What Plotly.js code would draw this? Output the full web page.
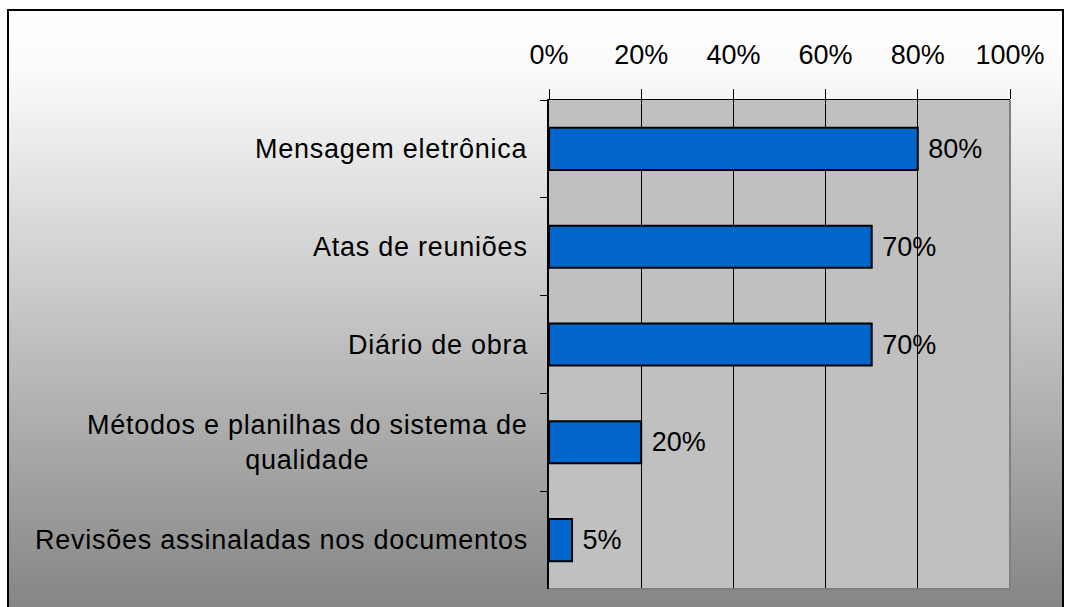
<!DOCTYPE html>
<html>
<head>
<meta charset="utf-8">
<script src="https://cdn.plot.ly/plotly-3.0.1.min.js"></script>
<style>
  html, body { margin: 0; padding: 0; width: 1067px; height: 607px; overflow: hidden; background: #ffffff; }
  #frame { position: absolute; left: 7px; top: 9px; width: 1053px; height: 620px;
           border-left: 2px solid #000; border-top: 2px solid #000; border-right: 2px solid #000;
           background: linear-gradient(to bottom, #ffffff 0%, #fafafa 10%, #808080 100%); }
  #chart { position: absolute; left: 0; top: 0; width: 1067px; height: 607px; }
  .annotation-text, .annotation-text tspan { letter-spacing: 0.75px; }
</style>
</head>
<body>
<div id="frame"></div>
<div id="chart"></div>
<script>
const categories = [
  "Mensagem eletrônica",
  "Atas de reuniões",
  "Diário de obra",
  "Métodos e planilhas do sistema de<br>qualidade",
  "Revisões assinaladas nos documentos"
];
const values = [80, 70, 70, 20, 5];
const tickValues = [0, 20, 40, 60, 80, 100];
const tickLabels = ["0%", "20%", "40%", "60%", "80%", "100%"];

const FONT = "Liberation Sans, Arial, sans-serif";
const FSIZE = 27;

const trace = {
  type: "bar",
  orientation: "h",
  x: values,
  y: categories,
  width: 0.43,
  marker: { color: "#0066CC", line: { color: "#000000", width: 2 } },
  text: values.map(v => "\u00A0" + v + "%"),
  textposition: "outside",
  textfont: { family: FONT, size: FSIZE, color: "#000000" },
  cliponaxis: false,
  hoverinfo: "none"
};

const annotations = categories.map(c => ({
  xref: "paper", yref: "y",
  x: 0, y: c,
  xanchor: "right", yanchor: "middle",
  xshift: -19,
  text: c,
  align: "center",
  showarrow: false,
  font: { family: FONT, size: FSIZE, color: "#000000" }
}));

const layout = {
  width: 1067, height: 607,
  margin: { l: 549, r: 57, t: 100, b: 18, pad: 0 },
  paper_bgcolor: "rgba(0,0,0,0)",
  plot_bgcolor: "#C0C0C0",
  showlegend: false,
  font: { family: FONT, size: FSIZE, color: "#000000" },
  xaxis: {
    side: "top",
    range: [0, 100],
    tickmode: "array",
    tickvals: tickValues,
    ticktext: tickLabels,
    ticks: "outside",
    ticklen: 10,
    tickcolor: "#000000",
    tickwidth: 1,
    ticklabelstandoff: 14,
    showgrid: true,
    gridcolor: "#000000",
    gridwidth: 1,
    showline: true,
    linecolor: "#000000",
    linewidth: 1,
    zeroline: false,
    tickfont: { family: FONT, size: FSIZE, color: "#000000" },
    fixedrange: true
  },
  yaxis: {
    type: "category",
    autorange: "reversed",
    showticklabels: false,
    ticks: "outside",
    tickson: "boundaries",
    ticklen: 7,
    tickcolor: "#000000",
    tickwidth: 1,
    showgrid: false,
    showline: true,
    linecolor: "#000000",
    linewidth: 2,
    zeroline: false,
    fixedrange: true
  },
  shapes: [
    { type: "line", xref: "paper", yref: "paper", x0: 1, x1: 1, y0: 0, y1: 1, line: { color: "#808080", width: 2 } },
    { type: "line", xref: "paper", yref: "paper", x0: 0, x1: 1, y0: 0, y1: 0, line: { color: "#808080", width: 2 } }
  ],
  annotations: annotations
};

Plotly.newPlot("chart", [trace], layout, { displayModeBar: false, staticPlot: true });
</script>
</body>
</html>
